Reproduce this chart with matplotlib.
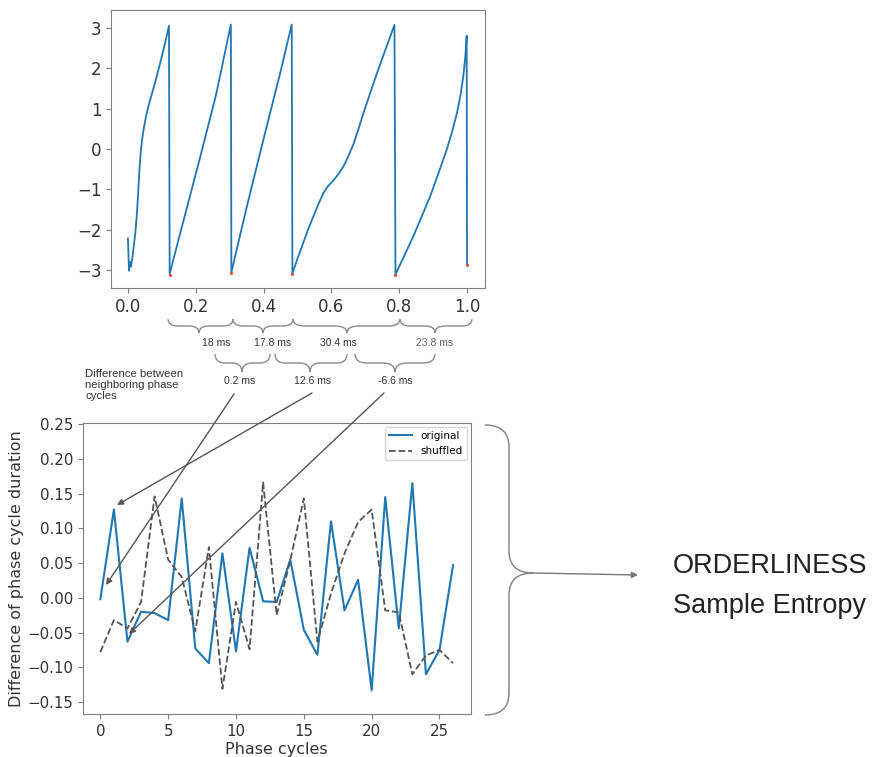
import numpy as np
import matplotlib
matplotlib.use("Agg")
import matplotlib.pyplot as plt
from matplotlib.path import Path
from matplotlib.patches import PathPatch

# ---------------- data ----------------
# top panel: phase trace (normalised time, phase in rad)
phase_t = [0.000, 0.003, 0.006, 0.009, 0.013, 0.018, 0.022, 0.026, 0.030, 0.034, 0.038, 0.042,
           0.047, 0.053, 0.060, 0.070, 0.080, 0.090, 0.100, 0.110, 0.121,
           0.123, 0.160, 0.210, 0.260, 0.3035,
           0.305, 0.350, 0.400, 0.450, 0.483,
           0.485, 0.500, 0.517, 0.532, 0.547, 0.562, 0.576, 0.590, 0.606, 0.620, 0.635,
           0.650, 0.665, 0.680, 0.694, 0.714, 0.734, 0.760, 0.786,
           0.789, 0.815, 0.842, 0.866, 0.891, 0.915, 0.940, 0.955, 0.970, 0.980, 0.989,
           0.995, 0.999,
           1.000]
phase_y = [-2.22, -3.02, -2.80, -2.92, -2.70, -2.35, -2.05, -1.65, -1.10, -0.50, -0.05, 0.25,
           0.52, 0.80, 1.05, 1.35, 1.65, 1.97, 2.30, 2.65, 3.06,
           -3.10, -1.90, -0.30, 1.35, 3.09,
           -3.06, -1.45, 0.25, 1.92, 3.09,
           -3.09, -2.72, -2.33, -1.98, -1.67, -1.36, -1.10, -0.92, -0.78, -0.63, -0.44,
           -0.18, 0.12, 0.50, 0.88, 1.38, 1.87, 2.48, 3.08,
           -3.11, -2.65, -2.16, -1.68, -1.18, -0.62, -0.02, 0.40, 0.88, 1.30, 1.80,
           2.30, 2.81,
           -2.86]
trough_t = [0.123, 0.305, 0.485, 0.789, 1.000]
trough_y = [-3.13, -3.08, -3.11, -3.12, -2.88]

# bottom panel: differences of phase-cycle durations
cycles = list(range(27))
original = [-0.002, 0.127, -0.063, -0.020, -0.022, -0.032, 0.143, -0.073, -0.094, 0.064,
            -0.077, 0.072, -0.005, -0.006, 0.055, -0.046, -0.082, 0.110, -0.018, 0.026,
            -0.133, 0.145, -0.044, 0.165, -0.110, -0.075, 0.047]
shuffled = [-0.078, -0.032, -0.044, -0.006, 0.146, 0.055, 0.030, -0.048, 0.073, -0.131,
            -0.006, -0.074, 0.166, -0.025, 0.054, 0.143, -0.063, 0.006, 0.064, 0.109,
            0.127, -0.018, -0.021, -0.110, -0.083, -0.075, -0.094]

cycle_labels = ["18 ms", "17.8 ms", "30.4 ms", "23.8 ms"]
diff_labels = ["0.2 ms", "12.6 ms", "-6.6 ms"]

# ---------------- figure ----------------
W, H = 874, 757
fig = plt.figure(figsize=(W / 100, H / 100), dpi=100)

def frac(l, t, r, b):
    return [l / W, 1 - b / H, (r - l) / W, (b - t) / H]

TXT = '#333333'
SPINE = '#7f7f7f'

# top axes
ax1 = fig.add_axes(frac(111, 10, 485, 288))
ax1.plot(phase_t, phase_y, color='#1f77b4', lw=1.3)
ax1.plot(trough_t, trough_y, 'o', color='#e8413c', ms=2.2, mec='none')
ax1.set_xlim(-0.05, 1.053)
ax1.set_ylim(-3.45, 3.45)
ax1.set_xticks([0.0, 0.2, 0.4, 0.6, 0.8, 1.0])
ax1.set_yticks([-3, -2, -1, 0, 1, 2, 3])
ax1.tick_params(labelsize=12, colors=SPINE, labelcolor=TXT)
for s in ax1.spines.values():
    s.set_color(SPINE)

# bottom axes
ax2 = fig.add_axes(frac(82.7, 422.7, 470.7, 714.3))
ax2.plot(cycles, original, color='#1f77b4', lw=1.5, label='original')
ax2.plot(cycles, shuffled, color='#555555', lw=1.3, ls='--', label='shuffled')
ax2.set_xlim(-1.3, 27.3)
ax2.set_ylim(-0.1676, 0.252)
ax2.set_xticks([0, 5, 10, 15, 20, 25])
ax2.set_yticks([-0.15, -0.10, -0.05, 0.00, 0.05, 0.10, 0.15, 0.20, 0.25])
ax2.tick_params(labelsize=10.8, colors=SPINE, labelcolor=TXT)
for s in ax2.spines.values():
    s.set_color(SPINE)
ax2.set_xlabel('Phase cycles', fontsize=11.5, color=TXT, labelpad=2)
ax2.set_ylabel('Difference of phase cycle duration', fontsize=11.5, color=TXT, labelpad=2)
leg = ax2.legend(loc='upper right', fontsize=7.5, frameon=True, handlelength=2.2,
                 borderaxespad=0.4)
leg.get_frame().set_edgecolor('#cccccc')

# ---------------- annotation overlay ----------------
ov = fig.add_axes([0, 0, 1, 1], zorder=10)
ov.set_xlim(0, W)
ov.set_ylim(H, 0)
ov.axis('off')
ov.patch.set_alpha(0)

BR = '#8a8a8a'

def hbrace(x0, x1, y0, h, q, xm=None, lw=1.0, color=BR):
    if xm is None:
        xm = (x0 + x1) / 2
    ym = y0 + h / 2
    verts = [(x0, y0), (x0, ym), (x0 + q, ym),
             (xm - q, ym),
             (xm, ym), (xm, y0 + h),
             (xm, ym), (xm + q, ym),
             (x1 - q, ym),
             (x1, ym), (x1, y0)]
    codes = [Path.MOVETO, Path.CURVE3, Path.CURVE3,
             Path.LINETO,
             Path.CURVE3, Path.CURVE3,
             Path.CURVE3, Path.CURVE3,
             Path.LINETO,
             Path.CURVE3, Path.CURVE3]
    ov.add_patch(PathPatch(Path(verts, codes), fc='none', ec=color, lw=lw))

def vbrace(y0, y1, x0, w, q, ym=None, lw=1.0, color=BR):
    if ym is None:
        ym = (y0 + y1) / 2
    xm = x0 + w / 2
    verts = [(x0, y0), (xm, y0), (xm, y0 + q),
             (xm, ym - q),
             (xm, ym), (x0 + w, ym),
             (xm, ym), (xm, ym + q),
             (xm, y1 - q),
             (xm, y1), (x0, y1)]
    codes = [Path.MOVETO, Path.CURVE3, Path.CURVE3,
             Path.LINETO,
             Path.CURVE3, Path.CURVE3,
             Path.CURVE3, Path.CURVE3,
             Path.LINETO,
             Path.CURVE3, Path.CURVE3]
    ov.add_patch(PathPatch(Path(verts, codes), fc='none', ec=color, lw=lw))

# upper braces (cycle durations)
hbrace(168, 233, 319, 14, 10, xm=199)
hbrace(233, 293, 319, 14, 10, xm=263)
hbrace(293, 400, 319, 14, 12, xm=347)
hbrace(400, 472, 319, 14, 10, xm=435)
for lab, x, c in zip(cycle_labels, [216, 273, 338, 435], [TXT, TXT, TXT, '#666666']):
    ov.text(x, 343, lab, fontsize=7.5, color=c, ha='center', va='center', family='Liberation Sans')

# lower braces (differences)
hbrace(215, 270, 354, 18, 10, xm=242)
hbrace(275, 347, 354, 18, 10, xm=310)
hbrace(355, 435, 354, 18, 12, xm=395)
for lab, x in zip(diff_labels, [240, 313, 395]):
    ov.text(x, 381, lab, fontsize=7.5, color=TXT, ha='center', va='center', family='Liberation Sans')

ov.text(85, 385, 'Difference between\nneighboring phase\ncycles', fontsize=8.2, color=TXT,
        ha='left', va='center', family='Liberation Sans', linespacing=1.15)

# arrows to bottom plot
AR = '#555555'
for (xs, ys), (xe, ye) in [((234, 394), (106, 585)),
                           ((312, 393), (117, 505)),
                           ((384, 393), (129, 634))]:
    ov.annotate('', xy=(xe, ye), xytext=(xs, ys), xycoords='data', textcoords='data',
                arrowprops=dict(arrowstyle='-|>', color=AR, lw=1.0, mutation_scale=9,
                                shrinkA=0, shrinkB=0))

# big brace and arrow on the right
vbrace(425, 715, 485, 48, 22, ym=573, lw=1.1)
ov.annotate('', xy=(638, 575), xytext=(533, 573), xycoords='data', textcoords='data',
            arrowprops=dict(arrowstyle='-|>', color='#777777', lw=1.0, mutation_scale=9,
                            shrinkA=0, shrinkB=0))

ov.text(673, 566, 'ORDERLINESS', fontsize=19.5, color='#222222', ha='left', va='center',
        family='Liberation Sans')
ov.text(673, 606, 'Sample Entropy', fontsize=19.5, color='#222222', ha='left', va='center',
        family='Liberation Sans')

fig.savefig('out.png', dpi=100)
